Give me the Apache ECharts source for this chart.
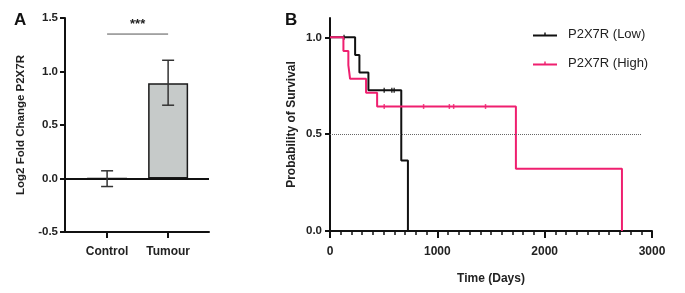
<!DOCTYPE html>
<html>
<head>
<meta charset="utf-8">
<script src="https://cdn.jsdelivr.net/npm/echarts@6/dist/echarts.min.js"></script>
<style>
  html, body { margin: 0; padding: 0; background: #fff; }
  #chart { width: 685px; height: 293px; }
</style>
</head>
<body>
<div id="chart"></div>
<script>
// panel A - fold change
const groups = ['Control', 'Tumour']
const foldChange = [0, 0.89]
const errLow = [-0.075, 0.685]
const errHigh = [0.072, 1.105]

// panel B - Kaplan-Meier
const lowTimes = [0, 234, 274, 358, 664, 726]
const lowSurv = [1, 0.909, 0.818, 0.727, 0.364, 0]
const lowCensorT = [131, 505, 576, 598]
const lowCensorS = [1, 0.727, 0.727, 0.727]
const highTimes = [0, 125, 171, 187, 336, 439, 1732, 2720]
const highSurv = [1, 0.929, 0.857, 0.786, 0.714, 0.643, 0.321, 0]
const highCensorT = [505, 872, 1112, 1152, 1449]
const highCensorS = [0.643, 0.643, 0.643, 0.643, 0.643]
const yTicksB = [0, 0.5, 1]

const FONT = 'Liberation Sans, Arial, sans-serif'
const PINK = '#ef1f6f'
// line with a small censor tick in the middle
const KM_ICON = 'path://M0,2.2 L24,2.2 L24,4.2 L0,4.2 Z M11.3,0 L12.7,0 L12.7,4.2 L11.3,4.2 Z'

const zip = (a, b) => a.map((v, i) => [v, b[i]])

const chart = echarts.init(document.getElementById('chart'))

chart.setOption({
  animation: false,
  backgroundColor: '#fff',
  textStyle: { fontFamily: FONT },
  title: [
    { text: 'A', left: 9, top: 7, textStyle: { fontSize: 17, fontWeight: 'bold', color: '#111', fontFamily: FONT } },
    { text: 'B', left: 280, top: 7, textStyle: { fontSize: 17, fontWeight: 'bold', color: '#111', fontFamily: FONT } }
  ],
  legend: {
    orient: 'vertical',
    left: 528,
    top: 23,
    itemWidth: 24,
    itemHeight: 5,
    itemGap: 16,
    icon: KM_ICON,
    data: ['P2X7R (Low)', 'P2X7R (High)'],
    textStyle: { fontSize: 13, color: '#222', fontFamily: FONT, padding: [0, 0, 0, 6] }
  },
  grid: [
    { left: 65, right: 476, top: 18, bottom: 61 },
    { left: 330, right: 33, top: 18, bottom: 62 }
  ],
  xAxis: [
    {
      gridIndex: 0,
      type: 'value',
      min: -0.69,
      max: 1.67,
      splitLine: { show: false },
      axisLine: { onZero: false, lineStyle: { color: '#111', width: 2 } },
      axisTick: { customValues: [0, 1], length: 6, lineStyle: { color: '#111', width: 2 } },
      axisLabel: {
        customValues: [0, 1],
        formatter: v => groups[v],
        margin: 14,
        fontSize: 12,
        fontWeight: 'bold',
        color: '#222'
      }
    },
    {
      gridIndex: 1,
      type: 'value',
      min: 0,
      max: 3000,
      interval: 1000,
      name: 'Time (Days)',
      nameLocation: 'middle',
      nameGap: 42,
      nameTextStyle: { fontSize: 12, fontWeight: 'bold', color: '#222' },
      splitLine: { show: false },
      axisLine: { onZero: false, lineStyle: { color: '#111', width: 2 } },
      axisTick: { length: 7, lineStyle: { color: '#111', width: 2 } },
      minorTick: { show: true, splitNumber: 10, length: 4, lineStyle: { color: '#111', width: 1.5 } },
      minorSplitLine: { show: false },
      axisLabel: { formatter: v => String(v), margin: 15, fontSize: 12, fontWeight: 'bold', color: '#222' }
    }
  ],
  yAxis: [
    {
      gridIndex: 0,
      type: 'value',
      min: -0.5,
      max: 1.5,
      interval: 0.5,
      name: 'Log2 Fold Change P2X7R',
      nameLocation: 'middle',
      nameGap: 38,
      nameTextStyle: { fontSize: 11.5, fontWeight: 'bold', color: '#222' },
      splitLine: { show: false },
      axisLine: { show: true, onZero: false, lineStyle: { color: '#111', width: 2 } },
      axisTick: { show: true, length: 5, lineStyle: { color: '#111', width: 2 } },
      axisLabel: { formatter: v => v.toFixed(1), margin: 7, fontSize: 11.5, fontWeight: 'bold', color: '#222' }
    },
    {
      gridIndex: 1,
      type: 'value',
      min: 0,
      max: 1.1,
      name: 'Probability of Survival',
      nameLocation: 'middle',
      nameGap: 32,
      nameTextStyle: { fontSize: 12, fontWeight: 'bold', color: '#222' },
      splitLine: { show: false },
      axisLine: { show: true, onZero: false, lineStyle: { color: '#111', width: 2 } },
      axisTick: { show: true, customValues: yTicksB, length: 5, lineStyle: { color: '#111', width: 2 } },
      axisLabel: { customValues: yTicksB, formatter: v => v.toFixed(1), margin: 8, fontSize: 11.5, fontWeight: 'bold', color: '#222' }
    }
  ],
  series: [
    {
      type: 'bar',
      xAxisIndex: 0,
      yAxisIndex: 0,
      barWidth: 40,
      z: 2,
      data: zip([0, 1], foldChange),
      itemStyle: { color: '#c6cac9', borderColor: '#1a1a1a', borderWidth: 1.5 },
      markLine: {
        silent: true,
        symbol: 'none',
        label: { show: false },
        lineStyle: { color: '#111', width: 2, type: 'solid' },
        data: [{ yAxis: 0 }]
      }
    },
    {
      type: 'custom',
      xAxisIndex: 0,
      yAxisIndex: 0,
      z: 10,
      data: groups.map((g, i) => [i, errLow[i], errHigh[i]]),
      renderItem(params, api) {
        const x = api.value(0)
        const lo = api.coord([x, api.value(1)])
        const hi = api.coord([x, api.value(2)])
        const w = 6
        const style = { stroke: '#333', lineWidth: 1.5 }
        return {
          type: 'group',
          children: [
            { type: 'line', shape: { x1: lo[0], y1: lo[1], x2: hi[0], y2: hi[1] }, style },
            { type: 'line', shape: { x1: lo[0] - w, y1: lo[1], x2: lo[0] + w, y2: lo[1] }, style },
            { type: 'line', shape: { x1: hi[0] - w, y1: hi[1], x2: hi[0] + w, y2: hi[1] }, style }
          ]
        }
      }
    },
    {
      type: 'custom',
      xAxisIndex: 0,
      yAxisIndex: 0,
      data: [[0, 1, 1.35]],
      renderItem(params, api) {
        const a = api.coord([api.value(0), api.value(2)])
        const b = api.coord([api.value(1), api.value(2)])
        return {
          type: 'group',
          children: [
            { type: 'line', shape: { x1: a[0], y1: a[1], x2: b[0], y2: b[1] }, style: { stroke: '#555', lineWidth: 1 } },
            {
              type: 'text',
              style: {
                text: '***', x: (a[0] + b[0]) / 2, y: a[1] - 3,
                align: 'center', verticalAlign: 'bottom',
                font: 'bold 13px ' + FONT, fill: '#222'
              }
            }
          ]
        }
      }
    },
    {
      name: 'P2X7R (Low)',
      type: 'line',
      xAxisIndex: 1,
      yAxisIndex: 1,
      step: 'end',
      symbol: 'none',
      color: '#111',
      lineStyle: { color: '#111', width: 2 },
      data: zip(lowTimes, lowSurv),
      markLine: {
        silent: true,
        symbol: 'none',
        label: { show: false },
        lineStyle: { color: '#666', width: 1, type: [1, 1] },
        data: [[{ coord: [0, 0.5] }, { coord: [2900, 0.5] }]]
      }
    },
    {
      name: 'P2X7R (High)',
      type: 'line',
      xAxisIndex: 1,
      yAxisIndex: 1,
      step: 'end',
      symbol: 'none',
      color: PINK,
      lineStyle: { color: PINK, width: 2 },
      data: zip(highTimes, highSurv)
    },
    {
      type: 'scatter',
      xAxisIndex: 1,
      yAxisIndex: 1,
      symbol: 'rect',
      symbolSize: [1.5, 5],
      itemStyle: { color: '#111' },
      data: zip(lowCensorT, lowCensorS)
    },
    {
      type: 'scatter',
      xAxisIndex: 1,
      yAxisIndex: 1,
      symbol: 'rect',
      symbolSize: [1.5, 5],
      itemStyle: { color: PINK },
      data: zip(highCensorT, highCensorS)
    }
  ]
})
</script>
</body>
</html>
